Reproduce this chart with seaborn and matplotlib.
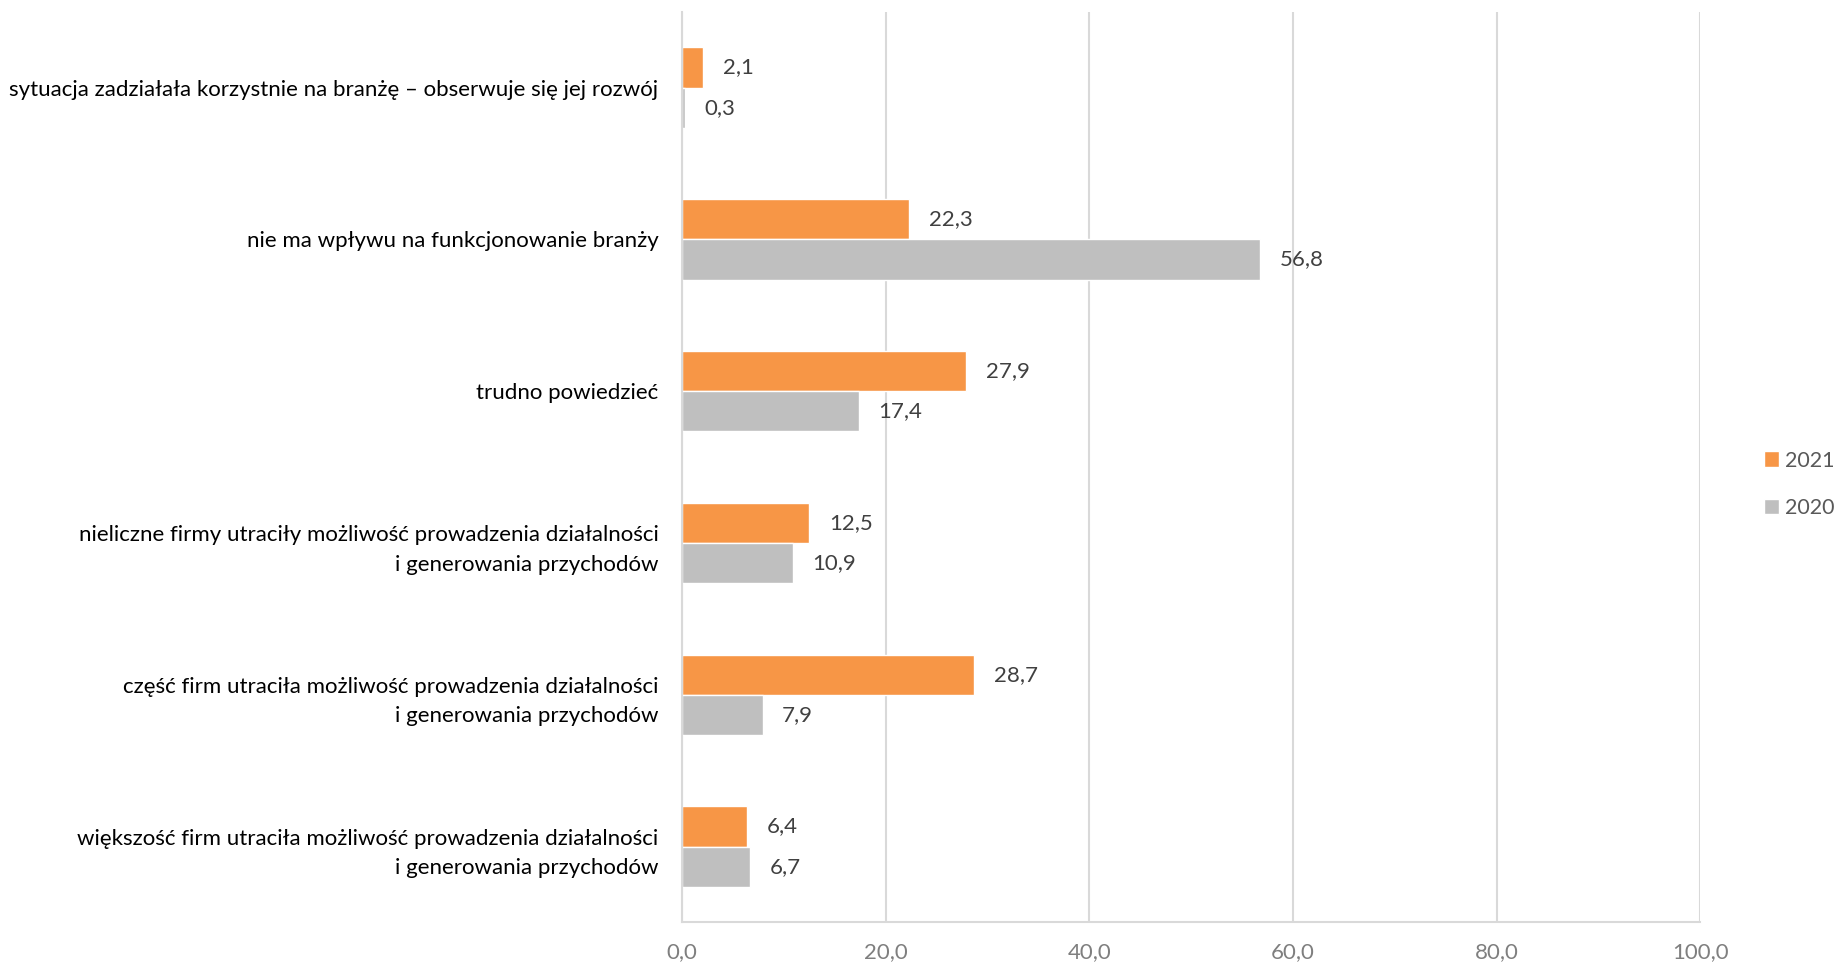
import numpy as np
import pandas as pd
import seaborn as sns
import matplotlib.pyplot as plt

categories = [
    "sytuacja zadziałała korzystnie na branżę – obserwuje się jej rozwój",
    "nie ma wpływu na funkcjonowanie branży",
    "trudno powiedzieć",
    "nieliczne firmy utraciły możliwość prowadzenia działalności\ni generowania przychodów",
    "część firm utraciła możliwość prowadzenia działalności\ni generowania przychodów",
    "większość firm utraciła możliwość prowadzenia działalności\ni generowania przychodów",
]
values_2021 = [2.1, 22.3, 27.9, 12.5, 28.7, 6.4]
values_2020 = [0.3, 56.8, 17.4, 10.9, 7.9, 6.7]
years = ["2021", "2020"]
colors = ["#F79646", "#BFBFBF"]
xticks = [0, 20, 40, 60, 80, 100]

df = pd.DataFrame({
    "kategoria": categories * 2,
    "wartosc": values_2021 + values_2020,
    "rok": [years[0]] * len(categories) + [years[1]] * len(categories),
})

sns.set_style("white")
plt.rcParams["font.family"] = ["Lato", "DejaVu Sans"]

fig = plt.figure(figsize=(18.41, 9.69), dpi=100)
ax = fig.add_axes([0.3705, 0.048, 0.553, 0.94])

sns.barplot(data=df, y="kategoria", x="wartosc", hue="rok", orient="h",
            palette=colors, hue_order=years, order=categories,
            width=0.53, saturation=1, ax=ax, legend=True)

for cont in ax.containers:
    labels = [f"{v:.1f}".replace(".", ",") for v in cont.datavalues]
    ax.bar_label(cont, labels=labels, padding=14, fontsize=16, color="#404040")

ax.set_xlim(0, 100)
ax.set_xticks(xticks)
ax.set_xticklabels([f"{t:.1f}".replace(".", ",") for t in xticks],
                   fontsize=16, color="#7F7F7F")
ax.tick_params(axis="x", pad=14, length=0)
ax.tick_params(axis="y", length=0, pad=17, labelsize=16, labelcolor="#000000")
for lab in ax.get_yticklabels():
    lab.set_horizontalalignment("right")
    lab.set_linespacing(1.6)
ax.set_xlabel("")
ax.set_ylabel("")
ax.grid(axis="x", color="#D9D9D9", linewidth=1.5)
ax.set_axisbelow(True)
for s in ["top", "right"]:
    ax.spines[s].set_visible(False)
ax.spines["left"].set_color("#D9D9D9")
ax.spines["left"].set_linewidth(1.5)
ax.spines["bottom"].set_color("#D9D9D9")
ax.spines["bottom"].set_linewidth(1.5)

handles, labs = ax.get_legend_handles_labels()
ax.get_legend().remove()
fig.legend(handles, labs, loc="center left", bbox_to_anchor=(0.958, 0.5),
           frameon=False, fontsize=15.5, handlelength=0.7, handleheight=0.7,
           handletextpad=0.3, labelspacing=1.3, labelcolor="#595959",
           borderaxespad=0, borderpad=0)

fig.savefig("out.png", dpi=100)
